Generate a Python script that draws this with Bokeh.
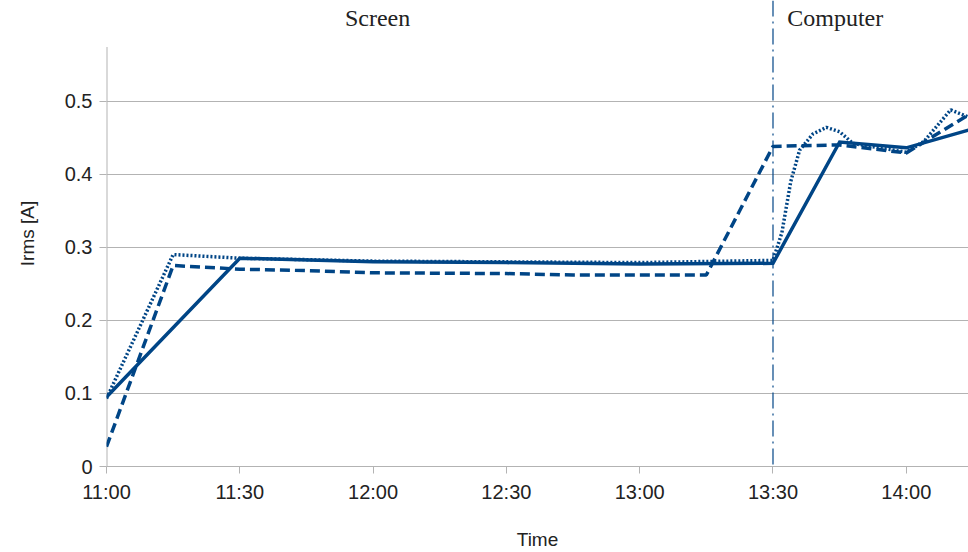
import pandas as pd
from bokeh.plotting import figure
from bokeh.models import (FixedTicker, DatetimeTickFormatter, Span, Label, Range1d)
from bokeh.embed import file_html
from bokeh.resources import INLINE

DAY = "2020-01-01 "

# ---- data ----
solid_t = ["11:00", "11:30", "12:00", "12:30", "13:00", "13:30", "13:45", "14:00", "14:15"]
solid_v = [0.095, 0.285, 0.280, 0.279, 0.277, 0.278, 0.444, 0.436, 0.462]

dashed_t = ["11:00", "11:15", "11:30", "11:45", "12:00", "12:30", "12:45", "13:00", "13:15",
            "13:30", "13:45", "14:00", "14:15"]
dashed_v = [0.027, 0.275, 0.270, 0.268, 0.265, 0.264, 0.262, 0.262, 0.262,
            0.438, 0.440, 0.429, 0.485]

dotted_t = ["11:00", "11:15", "11:30", "12:00", "12:30", "13:00", "13:30", "13:32", "13:34",
            "13:36", "13:39", "13:42", "13:45", "13:48", "14:00", "14:04", "14:10", "14:14"]
dotted_v = [0.093, 0.290, 0.285, 0.281, 0.280, 0.279, 0.282, 0.320, 0.390,
            0.433, 0.455, 0.464, 0.458, 0.442, 0.430, 0.445, 0.488, 0.478]

tick_labels = ["11:00", "11:30", "12:00", "12:30", "13:00", "13:30", "14:00"]
y_ticks = [0, 0.1, 0.2, 0.3, 0.4, 0.5]
divider_t = "13:30"
sections = [("Screen", "12:01"), ("Computer", "13:44")]


def ts(s):
    return pd.Timestamp(DAY + s)


def ms(s):
    return ts(s).value / 1e6


BLUE = "#004586"
GRAY = "#b3b3b3"
TXT = "#222222"

p = figure(width=968, height=552, x_axis_type="datetime", output_backend="svg",
           toolbar_location=None, min_border_left=106, min_border_right=0,
           min_border_top=0, min_border_bottom=84)
p.x_range = Range1d(ts("11:00"), ts("11:00") + pd.Timedelta(minutes=194))
p.y_range = Range1d(0, 0.6376)
p.outline_line_color = None
p.background_fill_color = "white"
p.border_fill_color = "white"

# axes
p.xaxis.ticker = FixedTicker(ticks=[ms(t) for t in tick_labels])
p.xaxis.formatter = DatetimeTickFormatter(minsec="%H:%M", minutes="%H:%M",
                                          hourmin="%H:%M", hours="%H:%M")
p.yaxis.ticker = FixedTicker(ticks=y_ticks)
p.yaxis.major_label_overrides = {0: "0"}
for ax in (p.xaxis[0], p.yaxis[0]):
    ax.minor_tick_line_color = None
    ax.major_tick_line_color = GRAY
    ax.major_tick_in = 0
    ax.major_tick_out = 7
    ax.axis_line_color = GRAY
    ax.major_label_text_font = "Liberation Sans"
    ax.major_label_text_font_size = "20px"
    ax.major_label_text_color = TXT
    ax.axis_label_text_font = "Liberation Sans"
    ax.axis_label_text_font_size = "19px"
    ax.axis_label_text_font_style = "normal"
    ax.axis_label_text_color = TXT
p.yaxis.axis_line_color = None
p.xaxis.axis_label = "Time"
p.yaxis.axis_label = "Irms [A]"
p.xaxis.major_label_standoff = 7
p.xaxis.axis_label_standoff = 23
p.yaxis.major_label_standoff = 7
p.yaxis.axis_label_standoff = 24

p.xgrid.grid_line_color = None
p.ygrid.ticker = FixedTicker(ticks=y_ticks)
p.ygrid.grid_line_color = GRAY

# left axis line only up to top of value scale
p.segment(x0=[ts("11:00")], y0=[0], x1=[ts("11:00")], y1=[0.574],
          line_color=GRAY, line_width=2)

# series
p.line([ts(t) for t in dashed_t], dashed_v, line_color=BLUE, line_width=3.5,
       line_dash="10 5")
p.line([ts(t) for t in dotted_t], dotted_v, line_color=BLUE, line_width=3.5,
       line_dash="2 2")
p.line([ts(t) for t in solid_t], solid_v, line_color=BLUE, line_width=3.5,
       line_join="miter")

# divider and section labels
p.add_layout(Span(location=ms(divider_t), dimension="height", line_color=BLUE,
                  line_width=1.2, line_dash="16 5 2 5"))
for name, t in sections:
    p.add_layout(Label(x=ms(t), y=0.613, text=name, text_align="center",
                       text_baseline="middle", text_font="Liberation Serif",
                       text_font_size="24px", text_color=TXT))

open("out.html", "w").write(file_html(p, INLINE))
